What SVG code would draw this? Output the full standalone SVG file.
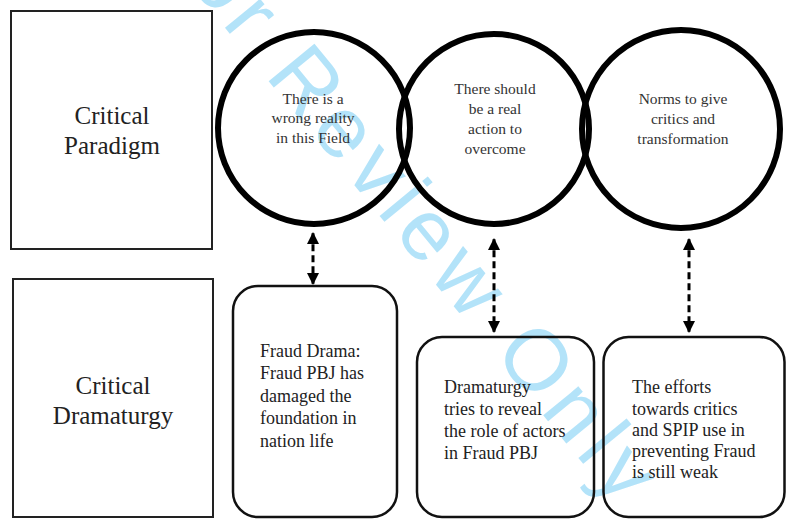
<svg xmlns="http://www.w3.org/2000/svg" width="787" height="519" viewBox="0 0 787 519">
<style>
  .wm { font-family: "Liberation Sans", Arial, sans-serif; font-size: 86px; letter-spacing: 7.6px; fill: #b3e3f9; }
  .big { font-family: "Liberation Serif", "Times New Roman", serif; font-size: 25px; fill: #222; text-anchor: middle; }
  .circ { font-family: "Liberation Serif", "Times New Roman", serif; font-size: 15.5px; fill: #333; text-anchor: middle; }
  .box { font-family: "Liberation Serif", "Times New Roman", serif; font-size: 18px; fill: #222; }
  .sq { fill: none; stroke: #222; stroke-width: 2; }
  .ring { fill: none; stroke: #000; stroke-width: 6; }
  .rbox { fill: none; stroke: #111; stroke-width: 2.5; }
  .conn { stroke: #000; stroke-width: 3; stroke-dasharray: 7 4; fill: none; }
</style>
<defs>
  <marker id="ah" viewBox="0 0 10 10" refX="9" refY="5" markerWidth="4" markerHeight="4" orient="auto-start-reverse" markerUnits="strokeWidth">
    <path d="M0,0 L10,5 L0,10 z" fill="#000"/>
  </marker>
</defs>
<rect width="787" height="519" fill="#fff"/>
<text class="wm" transform="translate(148,-66) rotate(50.6)">For Review Only</text>

<g id="paradigm">
  <rect class="sq" x="11" y="11" width="201" height="238"/>
  <text class="big" x="112" y="124">Critical</text>
  <text class="big" x="112" y="153.5">Paradigm</text>
</g>
<g id="dramaturgy">
  <rect class="sq" x="13" y="279" width="200" height="238"/>
  <text class="big" x="113" y="393.5">Critical</text>
  <text class="big" x="113" y="423.5">Dramaturgy</text>
</g>
<g id="circle1">
  <circle class="ring" cx="314" cy="128" r="96"/>
  <text class="circ" x="313" y="103.5">There is a</text>
  <text class="circ" x="313" y="123">wrong reality</text>
  <text class="circ" x="313" y="142.5">in this Field</text>
</g>
<g id="circle2">
  <circle class="ring" cx="494" cy="129" r="95"/>
  <text class="circ" x="495" y="93.5">There should</text>
  <text class="circ" x="495" y="113.5">be a real</text>
  <text class="circ" x="495" y="133.5">action to</text>
  <text class="circ" x="495" y="153.5">overcome</text>
</g>
<g id="circle3">
  <circle class="ring" cx="681" cy="129" r="99"/>
  <text class="circ" x="683" y="104">Norms to give</text>
  <text class="circ" x="683" y="124">critics and</text>
  <text class="circ" x="683" y="143.5">transformation</text>
</g>
<g id="box1">
  <rect class="rbox" x="233" y="286" width="164" height="231" rx="25" ry="25"/>
  <text class="box" x="260" y="356.5">Fraud Drama:</text>
  <text class="box" x="260" y="379">Fraud PBJ has</text>
  <text class="box" x="260" y="401.5">damaged the</text>
  <text class="box" x="260" y="424">foundation in</text>
  <text class="box" x="260" y="446.5">nation life</text>
</g>
<g id="box2">
  <rect class="rbox" x="417" y="337" width="177" height="180" rx="25" ry="25"/>
  <text class="box" x="444" y="392.5">Dramaturgy</text>
  <text class="box" x="444" y="414.5">tries to reveal</text>
  <text class="box" x="444" y="437">the role of actors</text>
  <text class="box" x="444" y="459">in Fraud PBJ</text>
</g>
<g id="box3">
  <rect class="rbox" x="603.5" y="337" width="181" height="180" rx="25" ry="25"/>
  <text class="box" x="632" y="393">The efforts</text>
  <text class="box" x="632" y="414.5">towards critics</text>
  <text class="box" x="632" y="436">and SPIP use in</text>
  <text class="box" x="632" y="457">preventing Fraud</text>
  <text class="box" x="632" y="478">is still weak</text>
</g>
<g id="connectors">
  <line class="conn" x1="313" y1="233.2" x2="313" y2="283.8" marker-start="url(#ah)" marker-end="url(#ah)"/>
  <line class="conn" x1="494" y1="239.2" x2="494" y2="331.8" marker-start="url(#ah)" marker-end="url(#ah)"/>
  <line class="conn" x1="689" y1="239.2" x2="689" y2="331.8" marker-start="url(#ah)" marker-end="url(#ah)"/>
</g>
</svg>
